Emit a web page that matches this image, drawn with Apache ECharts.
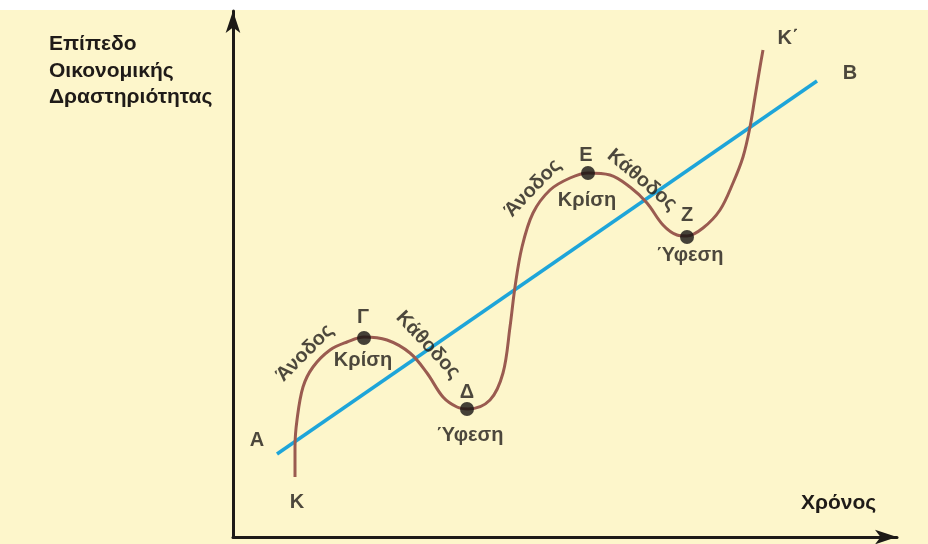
<!DOCTYPE html>
<html>
<head>
<meta charset="utf-8">
<script src="https://cdn.jsdelivr.net/npm/echarts@6/dist/echarts.min.js"></script>
<style>
html,body{margin:0;padding:0;background:#ffffff;}
#chart{width:928px;height:544px;}
</style>
</head>
<body>
<div id="chart"></div>
<script>
// Business cycle curve (time, activity level)
const cycleTime  = [62, 62, 64, 70, 80, 97, 114, 131, 154, 177, 194, 210, 224, 235, 257, 270, 277, 282, 289, 300, 317, 337, 355, 377, 397, 414, 430, 444, 454, 470, 487, 500, 510, 517, 522, 527, 530];
const cycleLevel = [60, 90, 117, 150, 170, 187, 195, 200, 197, 184, 164, 140, 130, 128, 137, 164, 210, 250, 290, 324, 347, 359, 364, 362, 350, 334, 312, 302, 301, 309, 327, 354, 380, 410, 440, 470, 487];
// Long-term trend line A-B
const trendTime  = [44, 584];
const trendLevel = [83, 456];
// Turning points Γ, Δ, Ε, Ζ
const pointNames = ['Γ', 'Δ', 'Ε', 'Ζ'];
const pointTime  = [131, 234, 355, 454];
const pointLevel = [199, 128, 364, 300];
// Axis titles
const yTitle = ['Επίπεδο', 'Οικονομικής', 'Δραστηριότητας'];
const xTitle = 'Χρόνος';

// annotation texts: [text, time, level, rotation]
const notes = [
  ['Α', 24, 97, 0],
  ['Κ', 64, 35, 0],
  ['Γ', 130, 220, 0],
  ['Κρίση', 130, 177, 0],
  ['Άνοδος', 72, 184, 45],
  ['Κάθοδος', 195, 192, -47],
  ['Δ', 234, 145, 0],
  ['Ύφεση', 237, 102, 0],
  ['Ε', 353, 382, 0],
  ['Κρίση', 354, 337, 0],
  ['Άνοδος', 300, 349, 46],
  ['Κάθοδος', 409, 357, -40],
  ['Ζ', 454, 322, 0],
  ['Ύφεση', 457, 282, 0],
  ['Κ΄', 555, 499, 0],
  ['Β', 617, 464, 0]
];

const FONT = '"Liberation Sans", Arial, sans-serif';
const TXT = '#1f1b18';

const chart = echarts.init(document.getElementById('chart'));
chart.setOption({
  backgroundColor: '#ffffff',
  animation: false,
  grid: { left: 233, right: 31, top: 11, bottom: 7 },
  xAxis: {
    type: 'value', min: 0, max: 664,
    axisLine: { show: true, symbol: ['none', 'arrow'], symbolSize: [11, 22],
      lineStyle: { color: '#1d1a17', width: 3 } },
    axisTick: { show: false }, axisLabel: { show: false }, splitLine: { show: false }
  },
  yAxis: {
    type: 'value', min: 0, max: 526,
    axisLine: { show: true, symbol: ['none', 'arrow'], symbolSize: [11, 22],
      lineStyle: { color: '#1d1a17', width: 3 } },
    axisTick: { show: false }, axisLabel: { show: false }, splitLine: { show: false }
  },
  graphic: [
    { type: 'rect', z: -10, silent: true, shape: { x: 0, y: 10, width: 928, height: 534 },
      style: { fill: '#fdf6cb' } },
    { type: 'text', left: 49, top: 31, style: { text: yTitle.join('\n'), font: 'bold 21px ' + FONT, fill: TXT, lineHeight: 26.5 } },
    { type: 'text', left: 801, top: 493, style: { text: xTitle, font: 'bold 21px ' + FONT, fill: TXT } }
  ],
  series: [
    {
      type: 'line', z: 2, showSymbol: false, silent: true,
      data: trendTime.map((t, i) => [t, trendLevel[i]]),
      lineStyle: { color: '#1ea5d9', width: 3.5 }
    },
    {
      type: 'line', z: 3, showSymbol: false, silent: true, smooth: 0.35,
      data: cycleTime.map((t, i) => [t, cycleLevel[i]]),
      lineStyle: { color: '#9a5b50', width: 3 }
    },
    {
      type: 'scatter', z: 4, symbol: 'circle', symbolSize: 14, silent: true,
      itemStyle: { color: '#151311' },
      data: pointTime.map((t, i) => ({ name: pointNames[i], value: [t, pointLevel[i]] }))
    },
    {
      type: 'scatter', z: 5, symbolSize: 0, silent: true,
      data: notes.map(n => ({
        value: [n[1], n[2]],
        label: { show: true, position: 'inside', formatter: n[0], rotate: n[3],
          color: TXT, fontFamily: FONT, fontWeight: 'bold', fontSize: 20 }
      }))
    }
  ]
});
</script>
</body>
</html>
